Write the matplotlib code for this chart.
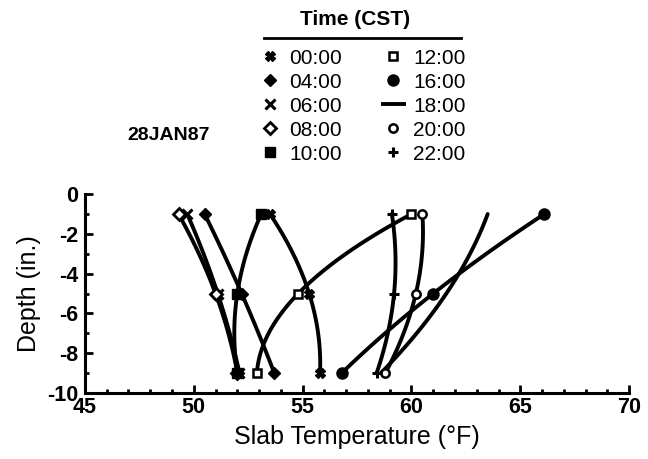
"""Slab temperature profiles, 28JAN87."""

import numpy as np
import matplotlib
matplotlib.use('Agg')
import matplotlib.pyplot as plt
from matplotlib.lines import Line2D
from matplotlib.ticker import MultipleLocator

plt.rcParams['font.family'] = ['Liberation Sans', 'DejaVu Sans']
plt.rcParams['axes.unicode_minus'] = False

# depth of the three sensors (in.)
depth = [-1, -5, -9]

# slab temperature (F) at each depth, per time of day
times = ['00:00', '04:00', '06:00', '08:00', '10:00',
         '12:00', '16:00', '18:00', '20:00', '22:00']
t0000 = [53.5, 55.3, 55.8]
t0400 = [50.5, 52.2, 53.7]
t0600 = [49.7, 51.1, 52.1]
t0800 = [49.3, 51.0, 52.0]
t1000 = [53.1, 52.0, 52.0]
t1200 = [60.0, 54.8, 52.9]
t1600 = [66.1, 61.0, 56.8]
t1800 = [63.5, 61.6, 58.6]
t2000 = [60.5, 60.2, 58.8]
t2200 = [59.1, 59.2, 58.4]
series = [t0000, t0400, t0600, t0800, t1000,
          t1200, t1600, t1800, t2000, t2200]

# marker styles: (marker, facecolor, size, edge width)
STYLES = [('X', 'k', 7, 1.0), ('D', 'k', 6, 1.0), ('x', 'k', 7, 2.2),
          ('D', 'w', 6, 2.0), ('s', 'k', 7, 1.0), ('s', 'w', 6, 1.8),
          ('o', 'k', 8, 1.0), ('None', 'k', 7, 1.0), ('o', 'w', 6, 1.8),
          ('+', 'k', 7, 2.2)]


def main():
    fig = plt.figure(figsize=(6.48, 4.59), dpi=100)
    ax = fig.add_axes([0.131, 0.144, 0.840, 0.433])

    handles = []
    dd = np.linspace(depth[0], depth[-1], 60)
    for name, temps, (mk, fc, ms, mew) in zip(times, series, STYLES):
        # smooth curve through the three measured points
        coef = np.polyfit(depth, temps, 2)
        ax.plot(np.polyval(coef, dd), dd, color='k', lw=2.8,
                solid_capstyle='round', zorder=2)
        ax.plot(temps, depth, ls='none', marker=mk, ms=ms, mfc=fc,
                mec='k', mew=mew, zorder=3)
        handles.append(Line2D([], [], color='k',
                              lw=2.8 if mk == 'None' else 0,
                              marker=mk, ms=ms, mfc=fc, mec='k', mew=mew,
                              label=name))

    ax.set_xlim(45, 70)
    ax.set_ylim(-10, 0)
    ax.xaxis.set_major_locator(MultipleLocator(5))
    ax.xaxis.set_minor_locator(MultipleLocator(1))
    ax.yaxis.set_major_locator(MultipleLocator(2))
    ax.yaxis.set_minor_locator(MultipleLocator(1))
    for side in ('top', 'right'):
        ax.spines[side].set_visible(False)
    for side in ('left', 'bottom'):
        ax.spines[side].set_linewidth(2.2)
    ax.tick_params(which='both', direction='in', width=2, labelsize=15.5)
    ax.tick_params(which='major', length=6)
    ax.tick_params(axis='x', which='major', pad=3)
    ax.tick_params(axis='y', which='major', pad=5)
    ax.tick_params(which='minor', length=3)
    for lab in ax.get_xticklabels() + ax.get_yticklabels():
        lab.set_fontweight('bold')
    ax.set_xlabel('Slab Temperature (°F)', fontsize=18, labelpad=5)
    ax.set_ylabel('Depth (in.)', fontsize=18, labelpad=4)

    # legend
    fig.legend(handles=handles, ncol=2, frameon=False,
               loc='upper center', bbox_to_anchor=(0.559, 0.912),
               fontsize=15, handlelength=1.0, handletextpad=0.45,
               columnspacing=1.95, labelspacing=0.24, borderaxespad=0)
    fig.text(0.548, 0.958, 'Time (CST)', fontsize=15, ha='center',
             va='center', fontweight='bold')
    fig.add_artist(Line2D([0.408, 0.712], [0.917, 0.917], color='k', lw=2,
                          transform=fig.transFigure))
    fig.text(0.26, 0.705, '28JAN87', fontsize=14, ha='center', va='center',
             fontweight='bold')

    fig.savefig('out.png', dpi=100)


if __name__ == '__main__':
    main()
